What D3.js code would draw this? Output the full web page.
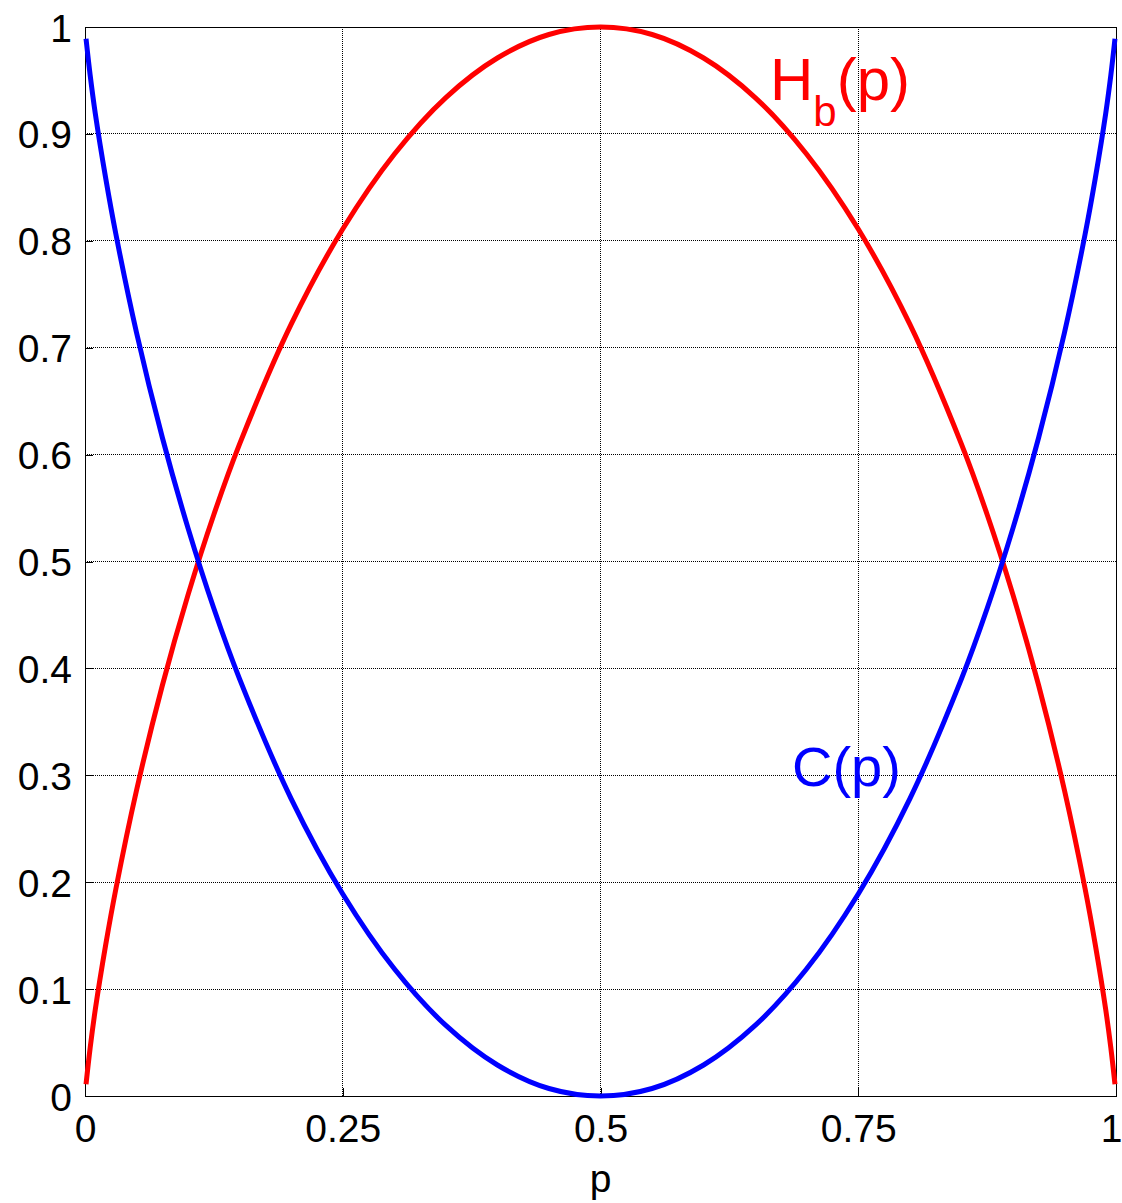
<!DOCTYPE html>
<html>
<head>
<meta charset="utf-8">
<script src="https://cdn.jsdelivr.net/npm/d3@7"></script>
<style>
  body { margin: 0; background: #fff; }
  text { font-family: "Liberation Sans", Arial, sans-serif; }
</style>
</head>
<body>
<script>
// values
var pValues = [0.001, 0.005, 0.01, 0.02, 0.03, 0.05, 0.075, 0.1, 0.125, 0.15, 0.2, 0.25, 0.3, 0.35, 0.4, 0.45, 0.5,
  0.55, 0.6, 0.65, 0.7, 0.75, 0.8, 0.85, 0.875, 0.9, 0.925, 0.95, 0.97, 0.98, 0.99, 0.995, 0.999];
var hbValues = [0.011, 0.045, 0.081, 0.141, 0.194, 0.286, 0.384, 0.469, 0.544, 0.610, 0.722, 0.811, 0.881, 0.934, 0.971, 0.993, 1.0,
  0.993, 0.971, 0.934, 0.881, 0.811, 0.722, 0.610, 0.544, 0.469, 0.384, 0.286, 0.194, 0.141, 0.081, 0.045, 0.011];
var capValues = [0.989, 0.955, 0.919, 0.859, 0.806, 0.714, 0.616, 0.531, 0.456, 0.390, 0.278, 0.189, 0.119, 0.066, 0.029, 0.007, 0.0,
  0.007, 0.029, 0.066, 0.119, 0.189, 0.278, 0.390, 0.456, 0.531, 0.616, 0.714, 0.806, 0.859, 0.919, 0.955, 0.989];
var xTicks = [0, 0.25, 0.5, 0.75, 1];
var yTicks = [0, 0.1, 0.2, 0.3, 0.4, 0.5, 0.6, 0.7, 0.8, 0.9, 1];

function drawChart() {
  var width = 1122, height = 1203;
  var left = 85, right = 1116, top = 27, bottom = 1096;

  var svg = d3.select("body").append("svg")
    .attr("width", width)
    .attr("height", height);

  var x = d3.scaleLinear().domain([0, 1]).range([left, right]);
  var y = d3.scaleLinear().domain([0, 1]).range([bottom, top]);

  // grid
  svg.append("g")
    .selectAll("line")
    .data(xTicks.slice(1, -1))
    .enter().append("line")
    .attr("x1", function(d) { return x(d); })
    .attr("x2", function(d) { return x(d); })
    .attr("y1", top).attr("y2", bottom)
    .attr("stroke", "#000").attr("stroke-width", 1)
    .attr("stroke-dasharray", "1,1").attr("shape-rendering", "crispEdges");

  svg.append("g")
    .selectAll("line")
    .data(yTicks.slice(1, -1))
    .enter().append("line")
    .attr("x1", left).attr("x2", right)
    .attr("y1", function(d) { return y(d); })
    .attr("y2", function(d) { return y(d); })
    .attr("stroke", "#000").attr("stroke-width", 1)
    .attr("stroke-dasharray", "1,1").attr("shape-rendering", "crispEdges");

  // axes with inward ticks
  var xAxis = d3.axisBottom(x).tickValues(xTicks).tickSizeInner(-8).tickSizeOuter(0)
    .tickFormat(function(d) { return String(d); });
  var yAxis = d3.axisLeft(y).tickValues(yTicks).tickSizeInner(-8).tickSizeOuter(0)
    .tickFormat(function(d) { return String(d); });

  var gx = svg.append("g").attr("transform", "translate(0," + bottom + ")").call(xAxis);
  var gy = svg.append("g").attr("transform", "translate(" + left + ",0)").call(yAxis);

  [gx, gy].forEach(function(g) {
    g.selectAll("path, line").attr("stroke", "#000").attr("shape-rendering", "crispEdges");
    g.selectAll("text").attr("fill", "#000").attr("font-size", 39)
      .attr("font-family", "Liberation Sans, Arial, sans-serif");
  });
  gx.selectAll("text").attr("dy", null).attr("y", 46);
  // last x label sits at the window edge; keep it inside
  gx.selectAll("text").filter(function(d) { return d === 1; })
    .attr("text-anchor", "end").attr("x", width - right);
  gy.selectAll("text").attr("x", -13).attr("dy", "0.36em");

  // top and right border
  svg.append("line").attr("x1", left).attr("x2", right).attr("y1", top).attr("y2", top)
    .attr("stroke", "#000").attr("shape-rendering", "crispEdges");
  svg.append("line").attr("x1", right).attr("x2", right).attr("y1", top).attr("y2", bottom)
    .attr("stroke", "#000").attr("shape-rendering", "crispEdges");

  var line = d3.line().curve(d3.curveCatmullRom.alpha(0.5));

  svg.append("path")
    .attr("d", line(pValues.map(function(p, i) { return [x(p), y(hbValues[i])]; })))
    .attr("fill", "none").attr("stroke", "#ff0000").attr("stroke-width", 5);

  svg.append("path")
    .attr("d", line(pValues.map(function(p, i) { return [x(p), y(capValues[i])]; })))
    .attr("fill", "none").attr("stroke", "#0000ff").attr("stroke-width", 5);

  // x label
  svg.append("text")
    .attr("x", x(0.5)).attr("y", 1192)
    .attr("text-anchor", "middle").attr("font-size", 39)
    .text("p");

  // curve labels
  var hb = svg.append("text")
    .attr("x", 770).attr("y", 100)
    .attr("font-size", 60).attr("fill", "#ff0000");
  hb.append("tspan").text("H");
  hb.append("tspan").attr("font-size", 42).attr("dy", 26).text("b");
  hb.append("tspan").attr("dy", -26).text("(p)");

  svg.append("text")
    .attr("x", 792).attr("y", 786)
    .attr("font-size", 56).attr("fill", "#0000ff")
    .text("C(p)");
}

document.addEventListener("DOMContentLoaded", function(event) {
  drawChart();
});
</script>
</body>
</html>
